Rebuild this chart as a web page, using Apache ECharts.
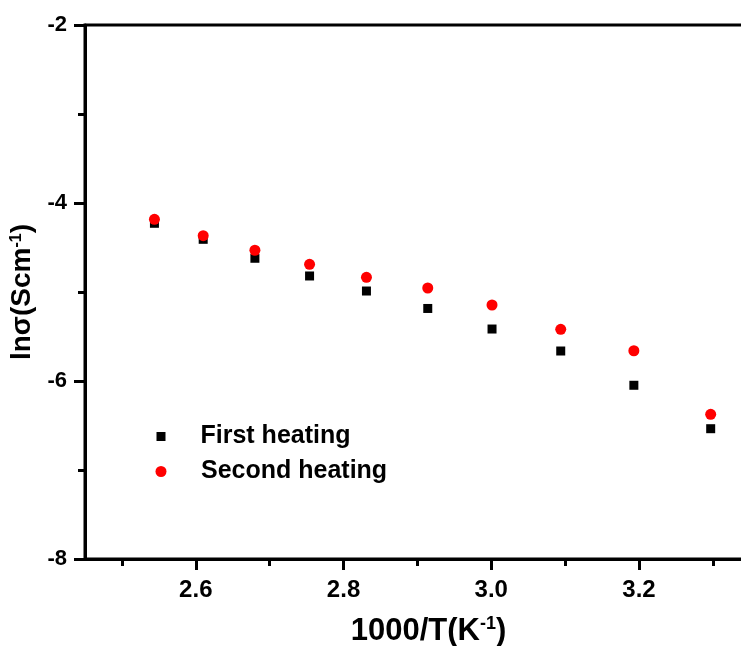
<!DOCTYPE html>
<html>
<head>
<meta charset="utf-8">
<script src="https://cdn.jsdelivr.net/npm/echarts@6/dist/echarts.min.js"></script>
<style>
html,body{margin:0;padding:0;overflow:hidden;background:#fff;}
#chart{width:800px;height:646px;}
</style>
</head>
<body>
<div id="chart"></div>
<script>
const xValues = [2.544, 2.610, 2.680, 2.754, 2.831, 2.914, 3.001, 3.094, 3.193, 3.297];
const firstHeating = [-4.228, -4.408, -4.621, -4.820, -4.989, -5.185, -5.416, -5.663, -6.048, -6.536];
const secondHeating = [-4.183, -4.367, -4.531, -4.689, -4.835, -4.955, -5.146, -5.419, -5.660, -6.374];
const xTickLabels = [2.6, 2.8, 3.0, 3.2];
const xMinorTicks = [2.5, 2.7, 2.9, 3.1, 3.3];
const seriesNames = ['First heating', 'Second heating'];

const font = '"Liberation Sans", Arial, sans-serif';
const chart = echarts.init(document.getElementById('chart'));
const pairs = (ys) => xValues.map((x, i) => [x, ys[i]]);

chart.setOption({
  animation: false,
  backgroundColor: '#fff',
  grid: {left: 85, top: 25, right: 28, bottom: 87, outerBoundsMode: 'none', containLabel: false,
    show: true, borderColor: '#000', borderWidth: 3, backgroundColor: 'transparent'},
  xAxis: [{
    type: 'value', min: 2.45, max: 3.38,
    axisLine: {show: true, lineStyle: {color: '#000', width: 3}},
    axisTick: {show: true, customValues: xTickLabels, length: 11, lineStyle: {color: '#000', width: 3}},
    axisLabel: {customValues: xTickLabels, formatter: v => v.toFixed(1), color: '#000', fontFamily: font, fontWeight: 'bold', fontSize: 24, margin: 19},
    splitLine: {show: false},
    name: '{a|1000/T(K}{s|-1}{a|)}', nameLocation: 'middle', nameGap: 56,
    nameTextStyle: {rich: {
      a: {fontFamily: font, fontWeight: 'bold', fontSize: 31, color: '#000'},
      s: {fontFamily: font, fontWeight: 'bold', fontSize: 18, color: '#000', padding: [0, 0, 14, 0]}
    }}
  }, {
    type: 'value', min: 2.45, max: 3.38, position: 'bottom',
    axisLine: {show: false},
    axisTick: {show: true, customValues: xMinorTicks, length: 7, lineStyle: {color: '#000', width: 3}},
    axisLabel: {show: false},
    splitLine: {show: false}
  }],
  yAxis: {
    type: 'value', min: -8, max: -2, interval: 2,
    axisLine: {show: true, lineStyle: {color: '#000', width: 3}},
    axisTick: {show: true, length: 11, lineStyle: {color: '#000', width: 3}},
    minorTick: {show: true, splitNumber: 2, length: 7, lineStyle: {color: '#000', width: 3}},
    axisLabel: {color: '#000', fontFamily: font, fontWeight: 'bold', fontSize: 22, margin: 18},
    splitLine: {show: false},
    name: '{a|lnσ(Scm}{s|-1}{a|)}', nameLocation: 'middle', nameGap: 47,
    nameTextStyle: {rich: {
      a: {fontFamily: font, fontWeight: 'bold', fontSize: 28, color: '#000'},
      s: {fontFamily: font, fontWeight: 'bold', fontSize: 16, color: '#000', padding: [0, 0, 12, 0]}
    }}
  },
  legend: [{
    data: [seriesNames[0]], orient: 'vertical', left: 156.5, top: 424, padding: 0,
    icon: 'rect', itemWidth: 9, itemHeight: 9,
    textStyle: {fontFamily: font, fontWeight: 'bold', fontSize: 25, color: '#000', padding: [0, 0, 0, 30]}
  }, {
    data: [seriesNames[1]], orient: 'vertical', left: 155.5, top: 459, padding: 0,
    icon: 'circle', itemWidth: 11, itemHeight: 11,
    textStyle: {fontFamily: font, fontWeight: 'bold', fontSize: 25, color: '#000', padding: [0, 0, 0, 29.5]}
  }],
  series: [{
    name: seriesNames[0], type: 'scatter', symbol: 'rect', symbolSize: 9,
    itemStyle: {color: '#000', opacity: 1}, data: pairs(firstHeating)
  }, {
    name: seriesNames[1], type: 'scatter', symbol: 'circle', symbolSize: 11,
    itemStyle: {color: '#ff0000', opacity: 1}, data: pairs(secondHeating)
  }]
});
</script>
</body>
</html>
